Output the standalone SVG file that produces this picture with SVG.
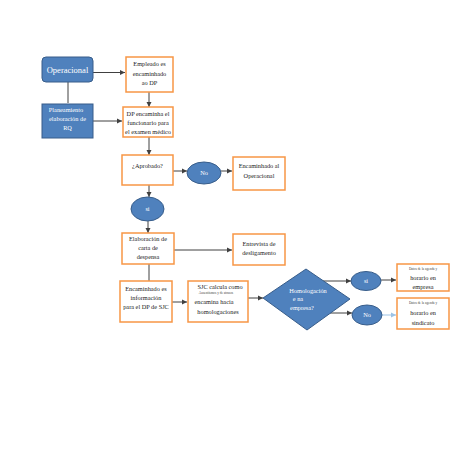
<svg xmlns="http://www.w3.org/2000/svg" width="474" height="470" viewBox="0 0 474 470">
<defs>
<marker id="ah" markerWidth="6" markerHeight="6" refX="5" refY="3" orient="auto" markerUnits="userSpaceOnUse">
<path d="M0,0.5 L5,3 L0,5.5 Z" fill="#404040"/>
</marker>
<marker id="ahb" markerWidth="6" markerHeight="6" refX="5" refY="3" orient="auto" markerUnits="userSpaceOnUse">
<path d="M0,0.5 L5,3 L0,5.5 Z" fill="#9dc3e6"/>
</marker>
<style>
.box{fill:#ffffff;stroke:#f79646;stroke-width:1.5}
.blue{fill:#4f81bd;stroke:#385d8a;stroke-width:1}
.t{font-family:"Liberation Serif",serif;font-size:6.3px;fill:#222;text-anchor:middle}
.w{font-family:"Liberation Serif",serif;fill:#ffffff;text-anchor:middle}
.s{font-family:"Liberation Serif",serif;font-size:3.4px;fill:#444;text-anchor:middle}
.c{stroke:#404040;stroke-width:1;fill:none;marker-end:url(#ah)}
.l{stroke:#404040;stroke-width:1;fill:none}
</style>
</defs>
<rect width="474" height="470" fill="#ffffff"/>
<g id="connectors">
<line class="c" x1="93" y1="72.5" x2="125" y2="72.5"/>
<line class="l" x1="68" y1="82" x2="68" y2="103"/>
<line class="c" x1="93" y1="121" x2="122" y2="121"/>
<line class="c" x1="149" y1="92" x2="149" y2="107"/>
<line class="c" x1="149" y1="137" x2="149" y2="155"/>
<line class="c" x1="173" y1="171" x2="187" y2="171"/>
<line class="c" x1="221" y1="171" x2="232" y2="171"/>
<line class="c" x1="149" y1="185" x2="149" y2="197"/>
<line class="c" x1="148" y1="221" x2="148" y2="233"/>
<line class="c" x1="174" y1="250" x2="232" y2="250"/>
<line class="l" x1="149" y1="264" x2="149" y2="281"/>
<line class="c" x1="172" y1="302" x2="187" y2="302"/>
<line class="c" x1="248" y1="298" x2="263" y2="298"/>
<line class="c" x1="323" y1="281" x2="351" y2="281"/>
<line class="c" x1="330" y1="313" x2="352" y2="313"/>
<line class="c" x1="381" y1="280" x2="396" y2="280"/>
<line x1="382" y1="315" x2="396" y2="315" stroke="#9dc3e6" stroke-width="1" marker-end="url(#ahb)"/>
</g>
<g id="operacional">
<rect class="blue" x="42" y="57" width="51" height="25" rx="4"/>
<text class="w" x="67.5" y="72.5" font-size="8.5">Operacional</text>
</g>
<g id="empleado">
<rect class="box" x="126" y="57" width="47" height="35"/>
<text class="t" x="149.5" y="66">Empleado es</text>
<text class="t" x="149.5" y="75.5">encaminhado</text>
<text class="t" x="149.5" y="85">ao DP</text>
</g>
<g id="planeamiento">
<rect class="blue" x="42" y="104" width="51" height="34"/>
<text class="w" x="66" y="112" font-size="6.3">Planeamiento</text>
<text class="w" x="67.5" y="121" font-size="6.3">elaboración de</text>
<text class="w" x="67.5" y="130" font-size="6.3">RQ</text>
</g>
<g id="dp">
<rect class="box" x="123" y="107" width="50" height="30"/>
<text class="t" x="148" y="115.5">DP encaminha el</text>
<text class="t" x="148" y="124.5">funcionario para</text>
<text class="t" x="148" y="133.5">el examen médico</text>
</g>
<g id="aprobado">
<rect class="box" x="122" y="155" width="51" height="30"/>
<text class="t" x="147.5" y="168">¿Aprobado?</text>
</g>
<g id="no1">
<ellipse class="blue" cx="204" cy="173" rx="17" ry="11"/>
<text class="w" x="204" y="175" font-size="6.3">No</text>
</g>
<g id="encaminhado-op">
<rect class="box" x="233" y="157" width="52" height="33"/>
<text class="t" x="259" y="168">Encaminhado al</text>
<text class="t" x="259" y="177.5">Operacional</text>
</g>
<g id="si1">
<ellipse class="blue" cx="147.5" cy="209" rx="16.5" ry="12"/>
<text class="w" x="147.5" y="211" font-size="6.3">si</text>
</g>
<g id="elaboracion">
<rect class="box" x="122" y="233" width="52" height="31"/>
<text class="t" x="148" y="241">Elaboración de</text>
<text class="t" x="148" y="250">carta de</text>
<text class="t" x="148" y="259">despensa</text>
</g>
<g id="entrevista">
<rect class="box" x="233" y="234" width="52" height="31"/>
<text class="t" x="259" y="245.5">Entrevista de</text>
<text class="t" x="259" y="255">desligamento</text>
</g>
<g id="info">
<rect class="box" x="120" y="281" width="52" height="41"/>
<text class="t" x="146" y="290.5">Encaminhado es</text>
<text class="t" x="146" y="299.5">información</text>
<text class="t" x="146" y="309">para el DP de SJC</text>
</g>
<g id="sjc">
<rect class="box" x="188" y="281" width="60" height="41"/>
<text class="t" x="220" y="288.5" font-size="6.8">SJC calcula como</text>
<text class="s" x="216" y="293.5">Ausentismos y de atrasos</text>
<text class="t" x="214" y="304" font-size="6.8">encamina hacia</text>
<text class="t" x="218" y="313.5" font-size="6.8">homologaciones</text>
</g>
<g id="homologacion">
<polygon class="blue" points="306,269 350,299 307,330 263,298"/>
<text class="w" x="308" y="293" font-size="6.3">Homologación</text>
<text class="w" x="298" y="301" font-size="6.3">e na</text>
<text class="w" x="302" y="310" font-size="6.3">empresa?</text>
</g>
<g id="si2">
<ellipse class="blue" cx="366" cy="281" rx="15" ry="9.5"/>
<text class="w" x="366" y="283" font-size="6.3">si</text>
</g>
<g id="no2">
<ellipse class="blue" cx="367" cy="315" rx="15" ry="10"/>
<text class="w" x="367" y="317" font-size="6.3">No</text>
</g>
<g id="datos1">
<rect class="box" x="397" y="264" width="52" height="27"/>
<text class="s" x="423" y="270">Datos de la agenda y</text>
<text class="t" x="423" y="280" font-size="6.8">horario en</text>
<text class="t" x="423" y="288.5" font-size="6.8">empresa</text>
</g>
<g id="datos2">
<rect class="box" x="397" y="298" width="52" height="31"/>
<text class="s" x="423" y="304">Datos de la agenda y</text>
<text class="t" x="423" y="315" font-size="6.8">horario en</text>
<text class="t" x="423" y="324.5" font-size="6.8">sindicato</text>
</g>
</svg>
